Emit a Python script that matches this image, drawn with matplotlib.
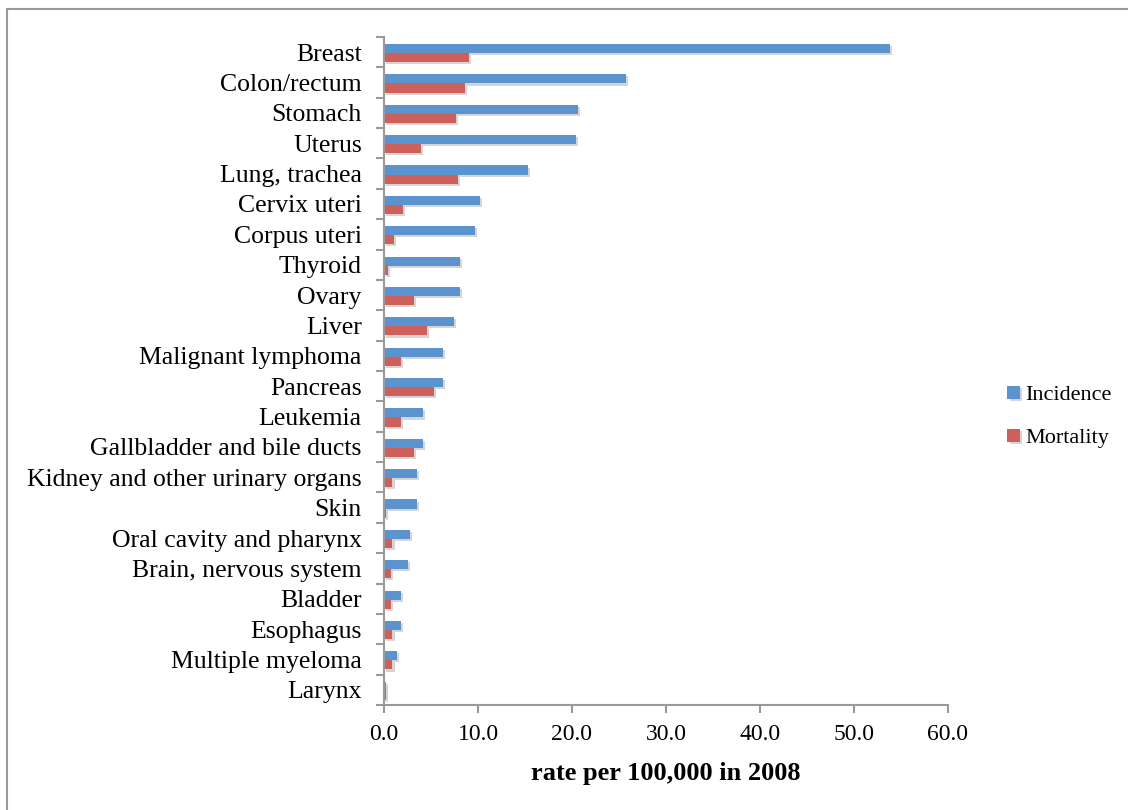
import numpy as np
import matplotlib.pyplot as plt
import matplotlib.patheffects as pe
from matplotlib.lines import Line2D

plt.rcParams['font.family'] = ['Liberation Serif', 'DejaVu Serif']

# cancer sites, top to bottom
sites = ["Breast", "Colon/rectum", "Stomach", "Uterus", "Lung, trachea",
         "Cervix uteri", "Corpus uteri", "Thyroid", "Ovary", "Liver",
         "Malignant lymphoma", "Pancreas", "Leukemia", "Gallbladder and bile ducts",
         "Kidney and other urinary organs", "Skin", "Oral cavity and pharynx",
         "Brain, nervous system", "Bladder", "Esophagus", "Multiple myeloma", "Larynx"]
incidence = [53.8, 25.7, 20.6, 20.4, 15.3, 10.2, 9.7, 8.1, 8.1, 7.45,
             6.25, 6.25, 4.15, 4.15, 3.5, 3.5, 2.8, 2.55, 1.85, 1.85, 1.35, 0.2]
mortality = [9.0, 8.6, 7.65, 3.9, 7.9, 2.05, 1.1, 0.4, 3.2, 4.6,
             1.8, 5.35, 1.8, 3.2, 0.9, 0.2, 0.9, 0.7, 0.7, 0.9, 0.9, 0.2]
xticks = [0, 10, 20, 30, 40, 50, 60]

blue = '#5A93CE'
red = '#CD605A'
grey = '#9A9A9A'

fig = plt.figure(figsize=(11.28, 8.1), dpi=100)
ax = fig.add_axes([384 / 1128, 1 - 705 / 810, (948 - 384) / 1128, (705 - 37) / 810])

n = len(sites)
y = np.arange(n)
h = 0.3
shadow = [pe.SimplePatchShadow(offset=(1.5, -1.5), shadow_rgbFace='#888888', alpha=0.35), pe.Normal()]
ax.barh(y - h / 2 + 0.03, incidence, height=h, color=blue, label='Incidence', path_effects=shadow)
ax.barh(y + h / 2 + 0.03, mortality, height=h, color=red, label='Mortality', path_effects=shadow)

ax.set_ylim(n - 0.5, -0.5)
ax.set_xlim(0, 60)
ax.set_yticks(y)
ax.set_yticklabels(sites, fontsize=18.5)
ax.set_yticks(np.arange(n + 1) - 0.5, minor=True)
ax.tick_params(axis='y', which='major', length=0, pad=16)
ax.tick_params(axis='y', which='minor', length=6, width=1.5, color=grey, direction='out')
ax.set_xticks(xticks)
ax.set_xticklabels([f"{v:.1f}" for v in xticks], fontsize=17)
ax.tick_params(axis='x', length=6, width=1.5, color=grey, direction='out', pad=8)

for side in ['top', 'right']:
    ax.spines[side].set_visible(False)
for side in ['left', 'bottom']:
    ax.spines[side].set_color(grey)
    ax.spines[side].set_linewidth(1.5)

ax.set_xlabel("rate per 100,000 in 2008", fontsize=19, fontweight='bold', labelpad=12)

ax.legend(loc='center left', bbox_to_anchor=(1.07, 0.431), frameon=False, fontsize=16,
          handlelength=0.55, handleheight=0.55, handletextpad=0.25, labelspacing=1.05)

# chart frame: only the top and left edges fall inside the image
fig.add_artist(Line2D([7 / 1128, 7 / 1128], [0, 1 - 9 / 810], transform=fig.transFigure,
                      color=grey, linewidth=1.5))
fig.add_artist(Line2D([7 / 1128, 1], [1 - 9 / 810, 1 - 9 / 810], transform=fig.transFigure,
                      color=grey, linewidth=1.5))

fig.savefig('out.png', dpi=100)
